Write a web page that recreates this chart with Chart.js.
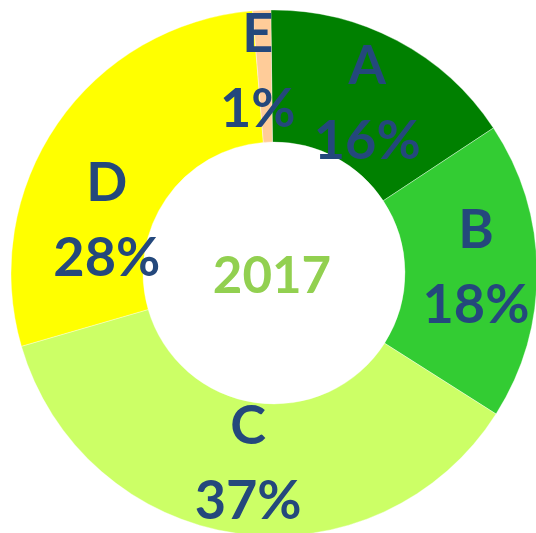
<!DOCTYPE html>
<html>
<head>
<meta charset="utf-8">
<script src="https://cdn.jsdelivr.net/npm/chart.js@4/dist/chart.umd.min.js"></script>
<style>
html, body { margin:0; padding:0; overflow:hidden; background:#fff; width:536px; height:533px; }
#wrap { position:absolute; left:0; top:0; width:550px; height:550px; }
</style>
</head>
<body>
<div id="wrap"><canvas id="c" width="550" height="550"></canvas></div>
<script>
// Data
const categories = ['A', 'B', 'C', 'D', 'E'];
const shares = [15.9, 18.3, 36.5, 28.2, 1.1];
const pctLabels = ['16%', '18%', '37%', '28%', '1%'];
const centerTitle = '2017';

const sliceColors = ['#008000', '#33CC33', '#CCFF66', '#FFFF00', '#FFCC99'];

const labelPlugin = {
  id: 'sliceLabels',
  afterDatasetsDraw(chart, args, opts) {
    const ctx = chart.ctx;
    const meta = chart.getDatasetMeta(0);
    ctx.save();
    ctx.font = opts.font;
    ctx.fillStyle = opts.color;
    ctx.textAlign = 'center';
    ctx.textBaseline = 'alphabetic';
    meta.data.forEach((arc, i) => {
      const p = arc.getProps(['x','y','startAngle','endAngle','innerRadius','outerRadius'], true);
      const mid = (p.startAngle + p.endAngle) / 2;
      const r = (p.innerRadius + p.outerRadius) / 2;
      const nudge = opts.nudge[i] || [0, 0];
      const cx = p.x + Math.cos(mid) * r + nudge[0];
      const cy = p.y + Math.sin(mid) * r + nudge[1];
      const half = opts.gap / 2;
      ctx.fillText(categories[i], cx, cy - half + opts.capHalf);
      ctx.fillText(pctLabels[i], cx, cy + half + opts.capHalf);
    });
    // centre title
    const a0 = meta.data[0];
    ctx.font = opts.titleFont;
    ctx.fillStyle = opts.titleColor;
    ctx.fillText(centerTitle, a0.x - 2, a0.y + 2 + opts.titleCapHalf);
    ctx.restore();
  }
};

new Chart(document.getElementById('c'), {
  type: 'doughnut',
  data: {
    labels: categories,
    datasets: [{
      data: shares,
      backgroundColor: sliceColors,
      borderColor: 'rgba(255,255,255,0.6)',
      borderWidth: 0.6
    }]
  },
  options: {
    responsive: false,
    animation: false,
    devicePixelRatio: 1,
    rotation: -0.7,
    radius: 263,
    cutout: '49.8%',
    layout: { padding: { left: 11, right: 13, top: 10, bottom: 14 } },
    plugins: {
      legend: { display: false },
      tooltip: { enabled: false },
      sliceLabels: {
        font: 'bold 54px Lato',
        color: '#24487C',
        gap: 75,
        capHalf: 19.5,
        nudge: [[1, 3], [5, -5], [2, -6.5], [-5, 58], [-7, -6]],
        titleFont: 'bold 51px Lato',
        titleColor: '#92D050',
        titleCapHalf: 18
      }
    }
  },
  plugins: [labelPlugin]
});
</script>
</body>
</html>
